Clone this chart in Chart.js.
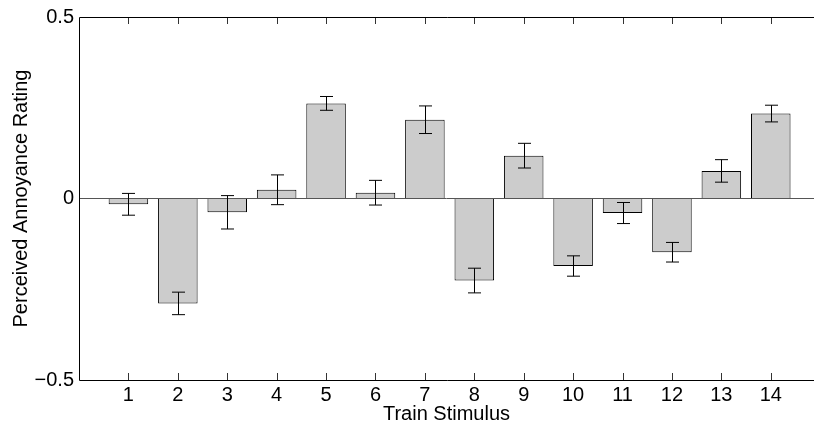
<!DOCTYPE html>
<html>
<head>
<meta charset="utf-8">
<script src="https://cdn.jsdelivr.net/npm/chart.js@4/dist/chart.umd.min.js"></script>
<style>
  html, body { margin: 0; padding: 0; background: #fff; overflow: hidden; }
  #chartBox { display: block; }
</style>
</head>
<body>
<canvas id="chartBox" width="814" height="426"></canvas>
<script>
const stimuli = [1, 2, 3, 4, 5, 6, 7, 8, 9, 10, 11, 12, 13, 14]
const ratings = [-0.016, -0.289, -0.038, 0.024, 0.262, 0.016, 0.217, -0.226, 0.118, -0.186, -0.040, -0.148, 0.076, 0.234]
const errors = [0.030, 0.031, 0.046, 0.041, 0.019, 0.034, 0.038, 0.034, 0.034, 0.028, 0.029, 0.027, 0.031, 0.023]
const yTicks = [-0.5, 0, 0.5]

const font = { family: '"Liberation Sans", Arial, sans-serif', size: 20 }

// error bars, plot box and inward tick marks, MATLAB style
const matlabBits = {
    id: 'matlabBits',
    afterDatasetsDraw (chart) {
        const { ctx, chartArea: a, scales: { x, y } } = chart
        ctx.save()
        ctx.strokeStyle = '#000'
        ctx.lineWidth = 1
        stimuli.forEach((s, i) => {
            const px = Math.round(x.getPixelForValue(s)) + 0.5
            const hi = y.getPixelForValue(ratings[i] + errors[i])
            const lo = y.getPixelForValue(ratings[i] - errors[i])
            ctx.beginPath()
            ctx.moveTo(px, hi); ctx.lineTo(px, lo)
            ctx.moveTo(px - 6.5, hi); ctx.lineTo(px + 6.5, hi)
            ctx.moveTo(px - 6.5, lo); ctx.lineTo(px + 6.5, lo)
            ctx.stroke()
        })
        ctx.strokeStyle = '#333'
        stimuli.forEach(s => {
            const px = Math.round(x.getPixelForValue(s)) + 0.5
            ctx.beginPath()
            ctx.moveTo(px, a.bottom); ctx.lineTo(px, a.bottom - 7)
            ctx.moveTo(px, a.top); ctx.lineTo(px, a.top + 7)
            ctx.stroke()
        })
        // box is cut by the right edge of the picture, so no right side
        const l = Math.round(a.left) + 0.5, t = Math.round(a.top) + 0.5, b = Math.round(a.bottom) + 0.5
        ctx.strokeStyle = '#000'
        ctx.beginPath()
        ctx.moveTo(a.right + 2, t); ctx.lineTo(l, t); ctx.lineTo(l, b); ctx.lineTo(a.right + 2, b)
        ctx.stroke()
        ctx.restore()
    }
}

const context = document.querySelector('#chartBox').getContext('2d')
const chart = new Chart(context, {
    type: 'bar',
    data: {
        datasets: [{
            data: stimuli.map((s, i) => ({ x: s, y: ratings[i] })),
            backgroundColor: '#cccccc',
            borderColor: '#000',
            borderWidth: 1,
            categoryPercentage: 1,
            barPercentage: 0.8
        }]
    },
    options: {
        responsive: false,
        animation: false,
        layout: { padding: { top: 15, right: 0, left: 0, bottom: 0 } },
        plugins: { legend: { display: false }, tooltip: { enabled: false } },
        scales: {
            x: {
                type: 'linear',
                min: 0,
                max: 14.875, // axis really runs to 15, past the picture's edge
                offset: false,
                afterBuildTicks: scale => { scale.ticks = stimuli.map(v => ({ value: v })) },
                afterFit: scale => { scale.height = 46 },
                grid: { display: false, drawTicks: false },
                border: { display: false },
                ticks: { color: '#000', font, padding: 3, autoSkip: false, maxRotation: 0 },
                title: { display: true, text: 'Train Stimulus', color: '#000', font, padding: 0 }
            },
            y: {
                min: -0.5,
                max: 0.5,
                afterBuildTicks: scale => { scale.ticks = yTicks.map(v => ({ value: v })) },
                afterFit: scale => { scale.width = 79 },
                grid: {
                    drawTicks: false,
                    color: c => c.tick && c.tick.value === 0 ? '#555' : 'transparent'
                },
                border: { display: false },
                ticks: {
                    color: '#000', font, padding: 5,
                    callback: v => String(v).replace('-', '\u2212')
                },
                title: { display: true, text: 'Perceived Annoyance Rating', color: '#000', font, padding: { top: 9, bottom: 0 } }
            }
        }
    },
    plugins: [matlabBits]
})
</script>
</body>
</html>
